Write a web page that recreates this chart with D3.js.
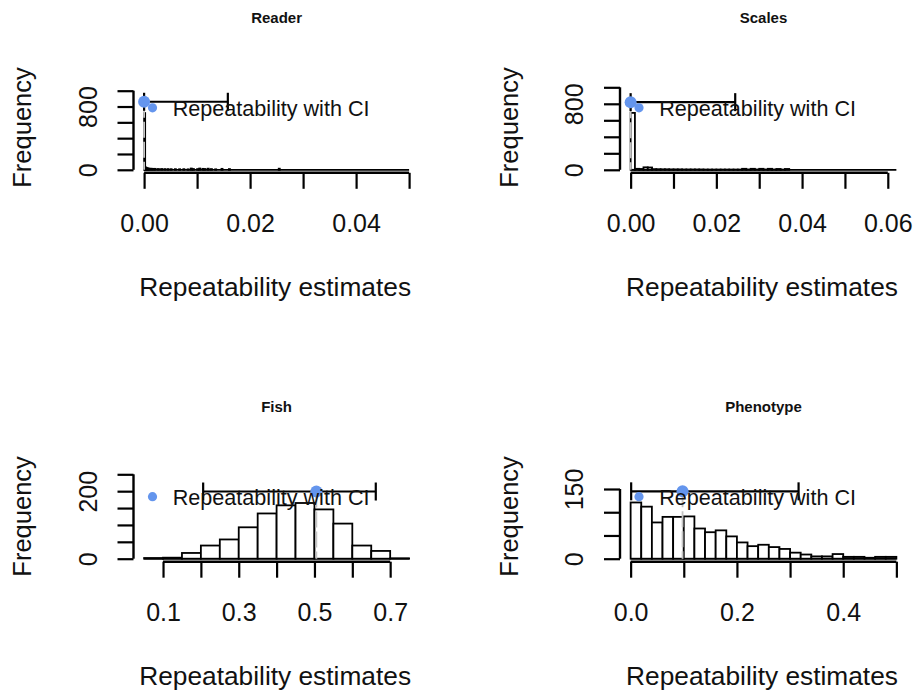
<!DOCTYPE html>
<html><head><meta charset="utf-8">
<script src="https://cdn.jsdelivr.net/npm/d3@7"></script>
<style>
html,body{margin:0;padding:0;background:#fff;}
svg{display:block;font-family:"Liberation Sans",Arial,sans-serif;}
</style></head>
<body>
<svg id="chart" width="915" height="692"></svg>
<script>
// ---------------- DATA ----------------
const panelTitles = ["Reader", "Scales", "Fish", "Phenotype"];

// Reader: bootstrap histogram (bin lower edges, width 0.0002), counts
const readerBinWidth = 0.0002;
const readerBreakRange = [0, 0.05];
const readerBinLo = [0, 0.0002, 0.0004, 0.0006, 0.0008, 0.0012, 0.0016, 0.0020, 0.0026, 0.0032, 0.0038, 0.0044, 0.0050, 0.0058, 0.0066, 0.0074, 0.0082, 0.0088, 0.0092, 0.0100, 0.0104, 0.0110, 0.0114, 0.0120, 0.0126, 0.0134, 0.0146, 0.0160, 0.0254];
const readerCounts = [717, 30, 22, 18, 15, 14, 12, 12, 10, 10, 9, 9, 8, 8, 7, 8, 6, 16, 10, 9, 16, 12, 10, 14, 9, 6, 12, 9, 14];
const readerXTicks = [0, 0.01, 0.02, 0.03, 0.04, 0.05];
const readerXLabels = ["0.00", "0.02", "0.04"];
const readerYTicks = [0, 200, 400, 600, 800, 1000];
const readerYLabels = ["0", "800"];
const readerEstimate = 0.0;
const readerCI = [0.0, 0.0158];
const readerCIHeight = 860;

// Scales
const scalesBinWidth = 0.001;
const scalesBreakRange = [0, 0.062];
const scalesBinLo = [0, 0.001, 0.002, 0.003, 0.004, 0.005, 0.006, 0.007, 0.008, 0.009, 0.010, 0.011, 0.012, 0.013, 0.014, 0.015, 0.016, 0.017, 0.018, 0.019, 0.020, 0.021, 0.022, 0.023, 0.024, 0.025, 0.026, 0.027, 0.028, 0.029, 0.030, 0.031, 0.032, 0.033, 0.034, 0.035, 0.036];
const scalesCounts = [690, 12, 10, 30, 28, 8, 7, 6, 6, 5, 5, 5, 4, 4, 4, 4, 4, 3, 3, 3, 3, 3, 3, 3, 3, 3, 12, 4, 12, 4, 12, 4, 12, 4, 10, 3, 10];
const scalesXTicks = [0, 0.01, 0.02, 0.03, 0.04, 0.05, 0.06];
const scalesXLabels = ["0.00", "0.02", "0.04", "0.06"];
const scalesYTicks = [0, 200, 400, 600, 800, 1000];
const scalesYLabels = ["0", "800"];
const scalesEstimate = 0.0;
const scalesCI = [0.0, 0.0244];
const scalesCIHeight = 820;

// Fish
const fishBinWidth = 0.05;
const fishBreakRange = [0.05, 0.75];
const fishBinLo = [0.05, 0.10, 0.15, 0.20, 0.25, 0.30, 0.35, 0.40, 0.45, 0.50, 0.55, 0.60, 0.65, 0.70];
const fishCounts = [2, 3, 17, 39, 57, 93, 134, 158, 165, 146, 104, 39, 23, 1];
const fishXTicks = [0.1, 0.2, 0.3, 0.4, 0.5, 0.6, 0.7];
const fishXLabels = ["0.1", "0.3", "0.5", "0.7"];
const fishYTicks = [0, 50, 100, 150, 200, 250];
const fishYLabels = ["0", "200"];
const fishEstimate = 0.505;
const fishCI = [0.206, 0.662];
const fishCIHeight = 199;

// Phenotype
const phenoBinWidth = 0.02;
const phenoBreakRange = [0, 0.5];
const phenoBinLo = [0, 0.02, 0.04, 0.06, 0.08, 0.10, 0.12, 0.14, 0.16, 0.18, 0.20, 0.22, 0.24, 0.26, 0.28, 0.30, 0.32, 0.34, 0.36, 0.38, 0.40, 0.42, 0.44, 0.46, 0.48];
const phenoCounts = [121, 112, 78, 90, 90, 91, 65, 57, 61, 48, 35, 27, 30, 25, 21, 13, 9, 5, 5, 10, 4, 4, 2, 4, 4];
const phenoXTicks = [0, 0.1, 0.2, 0.3, 0.4, 0.5];
const phenoXLabels = ["0.0", "0.2", "0.4"];
const phenoYTicks = [0, 50, 100, 150];
const phenoYLabels = ["0", "150"];
const phenoEstimate = 0.0977;
const phenoCI = [0.001, 0.316];
const phenoCIHeight = 145;

const xAxisTitle = "Repeatability estimates";
const yAxisTitle = "Frequency";
const legendLabel = "Repeatability with CI";

// ---------------- LAYOUT (positions only) ----------------
const layout = [
  {L: 133.5, R: 419.7, y0: 169.8, yTopTick: 90.7, fmt: ".2f"},
  {L: 620.0, R: 907.0, y0: 169.8, yTopTick: 87.3, fmt: ".2f"},
  {L: 133.5, R: 419.7, y0: 558.7, yTopTick: 474.3, fmt: ".1f"},
  {L: 620.0, R: 907.0, y0: 558.7, yTopTick: 489.0, fmt: ".1f"}
];

const panels = [
  {title: panelTitles[0], bw: readerBinWidth, range: readerBreakRange, lo: readerBinLo, counts: readerCounts,
   xTicks: readerXTicks, xLabels: readerXLabels, yTicks: readerYTicks, yLabels: readerYLabels,
   est: readerEstimate, ci: readerCI, ciH: readerCIHeight},
  {title: panelTitles[1], bw: scalesBinWidth, range: scalesBreakRange, lo: scalesBinLo, counts: scalesCounts,
   xTicks: scalesXTicks, xLabels: scalesXLabels, yTicks: scalesYTicks, yLabels: scalesYLabels,
   est: scalesEstimate, ci: scalesCI, ciH: scalesCIHeight},
  {title: panelTitles[2], bw: fishBinWidth, range: fishBreakRange, lo: fishBinLo, counts: fishCounts,
   xTicks: fishXTicks, xLabels: fishXLabels, yTicks: fishYTicks, yLabels: fishYLabels,
   est: fishEstimate, ci: fishCI, ciH: fishCIHeight},
  {title: panelTitles[3], bw: phenoBinWidth, range: phenoBreakRange, lo: phenoBinLo, counts: phenoCounts,
   xTicks: phenoXTicks, xLabels: phenoXLabels, yTicks: phenoYTicks, yLabels: phenoYLabels,
   est: phenoEstimate, ci: phenoCI, ciH: phenoCIHeight}
];

const svg = d3.select("#chart");
const BLUE = "#6495ED";
const TXT = "#111";

panels.forEach((p, i) => {
  const lay = layout[i];
  const g = svg.append("g");
  const inset = (lay.R - lay.L) * 0.04 / 1.08;
  const x = d3.scaleLinear().domain(p.range).range([lay.L + inset, lay.R - inset]);
  const y = d3.scaleLinear().domain([0, p.yTicks[p.yTicks.length - 1]]).range([lay.y0, lay.yTopTick]);
  const axisY = lay.y0 + 3;
  const fmt = d3.format(lay.fmt);

  // histogram baseline (zero-count bins)
  g.append("line")
    .attr("x1", x(p.range[0])).attr("x2", x(p.range[1]))
    .attr("y1", y(0)).attr("y2", y(0))
    .attr("stroke", "#000").attr("stroke-width", 1.8);

  // bars
  const bins = p.lo.map((v, k) => ({x0: v, c: p.counts[k]}));
  g.selectAll("rect.bar").data(bins).join("rect")
    .attr("class", "bar")
    .attr("x", d => x(d.x0))
    .attr("width", d => Math.max(0.6, x(d.x0 + p.bw) - x(d.x0)))
    .attr("y", d => y(d.c))
    .attr("height", d => y(0) - y(d.c))
    .attr("fill", "#fff")
    .attr("stroke", "#000")
    .attr("stroke-width", 1.8);

  // X axis
  const xa = d3.axisBottom(x).tickValues(p.xTicks).tickSize(16).tickSizeOuter(0)
    .tickFormat(v => p.xLabels.includes(fmt(v)) ? fmt(v) : "");
  const gx = g.append("g").attr("transform", `translate(0,${axisY})`).call(xa);
  gx.select(".domain").remove();
  gx.selectAll(".tick line").attr("stroke", "#000").attr("stroke-width", 2.2);
  gx.selectAll(".tick text").attr("y", 59.5).attr("dy", 0)
    .attr("font-size", 25).attr("fill", TXT).attr("font-family", "Liberation Sans, Arial, sans-serif");
  g.append("line")
    .attr("x1", x(p.xTicks[0])).attr("x2", x(p.xTicks[p.xTicks.length - 1]))
    .attr("y1", axisY).attr("y2", axisY)
    .attr("stroke", "#000").attr("stroke-width", 2.4);

  // Y axis
  const ya = d3.axisLeft(y).tickValues(p.yTicks).tickSize(16).tickSizeOuter(0)
    .tickFormat(v => p.yLabels.includes(String(v)) ? String(v) : "");
  const gy = g.append("g").attr("transform", `translate(${lay.L},0)`).call(ya);
  gy.select(".domain").remove();
  gy.selectAll(".tick line").attr("stroke", "#000").attr("stroke-width", 2.2);
  gy.selectAll(".tick text")
    .attr("x", null).attr("dy", 0)
    .attr("transform", "translate(-36.8,0) rotate(-90)")
    .attr("text-anchor", "middle")
    .attr("font-size", 25).attr("fill", TXT).attr("font-family", "Liberation Sans, Arial, sans-serif");
  g.append("line")
    .attr("x1", lay.L).attr("x2", lay.L)
    .attr("y1", y(p.yTicks[0])).attr("y2", y(p.yTicks[p.yTicks.length - 1]))
    .attr("stroke", "#000").attr("stroke-width", 2.4);

  // estimate vertical line
  g.append("line")
    .attr("x1", x(p.est)).attr("x2", x(p.est))
    .attr("y1", y(p.ciH)).attr("y2", y(0))
    .attr("stroke", "#c4c4c4").attr("stroke-width", 1.8)
    .attr("stroke-dasharray", "16,4");

  // CI arrow with caps
  const cy = y(p.ciH);
  g.append("line")
    .attr("x1", x(p.ci[0])).attr("x2", x(p.ci[1]))
    .attr("y1", cy).attr("y2", cy)
    .attr("stroke", "#000").attr("stroke-width", 2.2);
  p.ci.forEach(c => {
    g.append("line")
      .attr("x1", x(c)).attr("x2", x(c))
      .attr("y1", cy - 9).attr("y2", cy + 9)
      .attr("stroke", "#000").attr("stroke-width", 2.2);
  });

  // estimate point
  g.append("circle").attr("cx", x(p.est)).attr("cy", cy).attr("r", 6).attr("fill", BLUE);

  // legend
  const legY = axisY - 65;
  g.append("circle").attr("cx", lay.L + 19).attr("cy", legY).attr("r", 4.6).attr("fill", BLUE);
  g.append("text").attr("x", lay.L + 39.2).attr("y", legY + 7.8)
    .attr("font-size", 21.6).attr("fill", TXT).text(legendLabel);

  // title
  g.append("text").attr("x", (lay.L + lay.R) / 2).attr("y", axisY - 150)
    .attr("text-anchor", "middle").attr("font-size", 15).attr("font-weight", "bold")
    .attr("fill", TXT).text(p.title);

  // axis titles
  g.append("text").attr("x", (lay.L + lay.R) / 2 - 1.5).attr("y", axisY + 123.3)
    .attr("text-anchor", "middle").attr("font-size", 26.3).attr("fill", TXT).text(xAxisTitle);
  g.append("text")
    .attr("transform", `translate(${lay.L - 102.5},${axisY - 45.3}) rotate(-90)`)
    .attr("text-anchor", "middle").attr("font-size", 25.5).attr("fill", TXT).text(yAxisTitle);
});
</script>
</body></html>
